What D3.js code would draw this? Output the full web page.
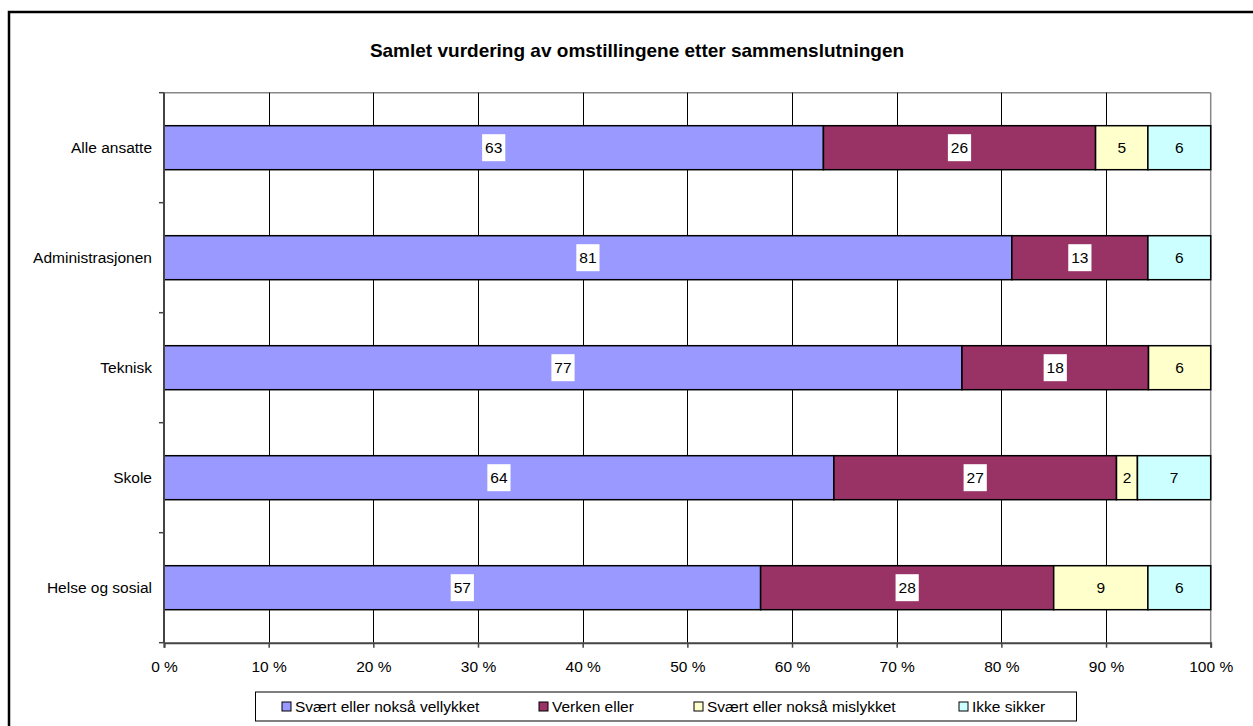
<!DOCTYPE html>
<html>
<head>
<meta charset="utf-8">
<title>Samlet vurdering av omstillingene etter sammenslutningen</title>
<style>
  body { margin: 0; background: #fff; }
  svg { display: block; font-family: "Liberation Sans", Arial, sans-serif; }
</style>
</head>
<body>
<svg width="1253" height="726"></svg>
<script src="https://d3js.org/d3.v7.min.js"></script>
<script>

// data
var categories = ["Alle ansatte", "Administrasjonen", "Teknisk", "Skole", "Helse og sosial"];
var series = ["Svært eller nokså vellykket", "Verken eller", "Svært eller nokså mislykket", "Ikke sikker"];
var vellykket = [63, 81, 77, 64, 57];
var verken    = [26, 13, 18, 27, 28];
var mislykket = [5, 0, 6, 2, 9];
var ikkeSikker = [6, 6, 0, 7, 6];
var ticks = [0, 0.1, 0.2, 0.3, 0.4, 0.5, 0.6, 0.7, 0.8, 0.9, 1];

var colors = ["#9999ff", "#993366", "#ffffcc", "#ccffff"];
var labelBg = [true, true, false, false];

var svg = d3.select("svg");

var pLeft = 164, pRight = 1210.7, pTop = 92.7, pBottom = 642.7;
var fs = "15.5px";

var rows = categories.map(function(c, i) {
  return { cat: c, s0: vellykket[i], s1: verken[i], s2: mislykket[i], s3: ikkeSikker[i] };
});
var keys = ["s0", "s1", "s2", "s3"];

var stack = d3.stack().keys(keys).offset(d3.stackOffsetExpand);
var layers = stack(rows);

var x = d3.scaleLinear().domain([0, 1]).range([pLeft, pRight]);
var y = d3.scaleBand().domain(categories).range([pTop, pBottom]).paddingInner(0.6).paddingOuter(0.3);
var band = d3.scaleBand().domain(categories).range([pTop, pBottom]);

// outer frame
svg.append("rect")
    .attr("x", 9).attr("y", 12)
    .attr("width", 1260).attr("height", 730)
    .attr("fill", "none")
    .attr("stroke", "#000")
    .attr("stroke-width", 2.5);

// title
svg.append("text")
    .attr("x", 637)
    .attr("y", 57)
    .attr("text-anchor", "middle")
    .attr("font-size", "19px")
    .attr("font-weight", "bold")
    .text("Samlet vurdering av omstillingene etter sammenslutningen");

// plot frame top/right
svg.append("line")
    .attr("x1", pLeft).attr("x2", pRight).attr("y1", pTop).attr("y2", pTop)
    .attr("stroke", "#888").attr("stroke-width", 1.5);
svg.append("line")
    .attr("x1", pRight).attr("x2", pRight).attr("y1", pTop).attr("y2", pBottom)
    .attr("stroke", "#888").attr("stroke-width", 1.5);

// vertical gridlines
svg.append("g").selectAll("line")
  .data(ticks.slice(1, -1))
  .enter().append("line")
    .attr("x1", function(d) { return Math.round(x(d)) + 0.5; })
    .attr("x2", function(d) { return Math.round(x(d)) + 0.5; })
    .attr("y1", pTop).attr("y2", pBottom)
    .attr("stroke", "#000").attr("stroke-width", 1);

// bars
var g = svg.append("g");
layers.forEach(function(layer, k) {
  g.append("g").selectAll("rect")
    .data(layer.filter(function(d) { return d[1] - d[0] > 0; }))
    .enter().append("rect")
      .attr("x", function(d) { return x(d[0]); })
      .attr("width", function(d) { return x(d[1]) - x(d[0]); })
      .attr("y", function(d) { return y(d.data.cat); })
      .attr("height", y.bandwidth())
      .attr("fill", colors[k])
      .attr("stroke", "#000")
      .attr("stroke-width", 1.5);
});

// data labels
layers.forEach(function(layer, k) {
  var lg = svg.append("g");
  layer.forEach(function(d) {
    var v = d.data[keys[k]];
    if (!v) return;
    var cx = x((d[0] + d[1]) / 2);
    var cy = y(d.data.cat) + y.bandwidth() / 2;
    var t = String(v);
    var w = t.length * 8.6 + 6;
    if (labelBg[k]) {
      lg.append("rect")
        .attr("x", cx - w / 2).attr("y", cy - 13.5)
        .attr("width", w).attr("height", 27)
        .attr("fill", "#fff");
    }
    lg.append("text")
      .attr("x", cx).attr("y", cy + 5.5)
      .attr("text-anchor", "middle")
      .attr("font-size", fs)
      .attr("fill", "#000")
      .text(t);
  });
});

// y axis
var yAxis = svg.append("g");
yAxis.append("line")
    .attr("x1", pLeft).attr("x2", pLeft).attr("y1", pTop).attr("y2", pBottom)
    .attr("stroke", "#444").attr("stroke-width", 2);
yAxis.selectAll("line.tick")
  .data(d3.range(categories.length + 1))
  .enter().append("line")
    .attr("class", "tick")
    .attr("x1", pLeft - 5).attr("x2", pLeft)
    .attr("y1", function(i) { return pTop + i * band.step(); })
    .attr("y2", function(i) { return pTop + i * band.step(); })
    .attr("stroke", "#444").attr("stroke-width", 1.5);
yAxis.selectAll("text")
  .data(categories)
  .enter().append("text")
    .attr("x", 152)
    .attr("y", function(d) { return y(d) + y.bandwidth() / 2 + 5.5; })
    .attr("text-anchor", "end")
    .attr("font-size", fs)
    .text(function(d) { return d; });

// x axis
var xAxis = svg.append("g")
    .attr("transform", "translate(0," + pBottom + ")")
    .call(d3.axisBottom(x)
      .tickValues(ticks)
      .tickSize(5)
      .tickPadding(13)
      .tickFormat(function(d) { return Math.round(d * 100) + " %"; }));
xAxis.select(".domain").attr("stroke", "#444").attr("stroke-width", 2);
xAxis.selectAll(".tick line").attr("stroke", "#444").attr("stroke-width", 1.5);
xAxis.selectAll(".tick text")
    .attr("font-size", fs)
    .attr("font-family", "Liberation Sans, Arial, sans-serif")
    .attr("fill", "#000");

// legend
var legend = svg.append("g");
legend.append("rect")
    .attr("x", 255.5).attr("y", 692)
    .attr("width", 821).attr("height", 29)
    .attr("fill", "#fff")
    .attr("stroke", "#000").attr("stroke-width", 1);
var legX = [282, 539, 694, 959];
series.forEach(function(s, k) {
  legend.append("rect")
    .attr("x", legX[k]).attr("y", 702)
    .attr("width", 9).attr("height", 9)
    .attr("fill", colors[k])
    .attr("stroke", "#000").attr("stroke-width", 1);
  legend.append("text")
    .attr("x", legX[k] + 13)
    .attr("y", 712)
    .attr("font-size", fs)
    .text(s);
});
</script>
</body>
</html>
